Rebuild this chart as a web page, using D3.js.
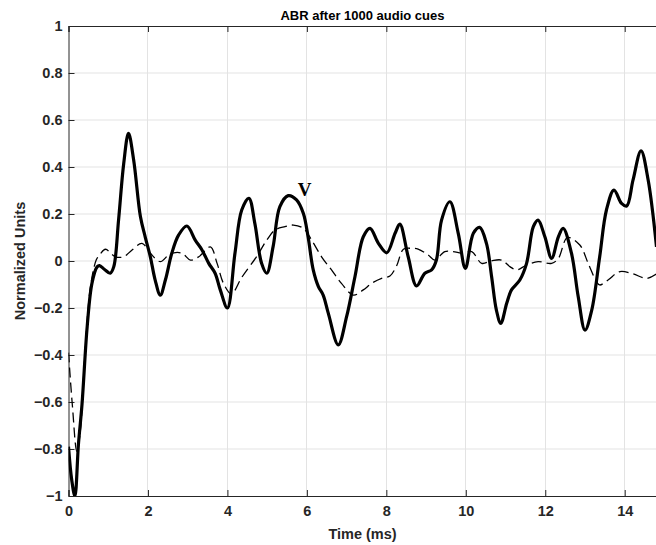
<!DOCTYPE html>
<html>
<head>
<meta charset="utf-8">
<script src="https://cdn.jsdelivr.net/npm/d3@7"></script>
<style>
body { margin:0; background:#fff; }
text { font-family: Arial, "Liberation Sans", Helvetica, sans-serif; }
</style>
</head>
<body>
<svg id="abr"></svg>
<script>
//solid trace, time in ms
var solidTime = [0,0.08,0.16,0.25,0.34,0.47,0.59,0.72,0.78,0.9,1.05,1.14,1.26,1.39,1.51,
    1.64,1.81,1.93,2.06,2.18,2.31,2.44,2.60,2.77,2.98,3.19,3.36,3.53,3.69,3.82,
    4.0,4.19,4.36,4.54,4.69,4.86,4.99,5.15,5.32,5.53,5.74,5.91,6.03,6.16,6.29,
    6.41,6.54,6.79,7.0,7.21,7.42,7.59,7.80,8.01,8.22,8.34,8.55,8.76,8.97,9.14,
    9.26,9.39,9.60,9.81,9.99,10.19,10.35,10.52,10.65,10.77,10.88,11.03,11.15,11.36,11.53,
    11.70,11.82,11.99,12.16,12.33,12.45,12.66,12.83,13.0,13.17,13.37,13.54,13.73,13.92,14.05,
    14.21,14.41,14.59,14.8];
var solidValues = [-0.79,-0.93,-1.0,-0.78,-0.61,-0.28,-0.095,-0.025,-0.02,-0.035,-0.052,-0.024,0.174,0.415,0.543,
    0.43,0.189,0.103,0.018,-0.08,-0.145,-0.08,0.033,0.11,0.149,0.089,0.047,-0.01,-0.052,-0.123,
    -0.20,0.033,0.217,0.267,0.16,-0.01,-0.052,0.061,0.231,0.278,0.26,0.203,0.103,-0.038,-0.109,
    -0.145,-0.223,-0.357,-0.237,-0.067,0.103,0.139,0.075,0.035,0.118,0.157,0.018,-0.106,-0.052,-0.038,
    0.004,0.174,0.252,0.118,-0.031,0.118,0.143,0.075,-0.067,-0.209,-0.265,-0.18,-0.123,-0.081,-0.01,
    0.146,0.174,0.103,0.011,0.103,0.139,0.033,-0.152,-0.294,-0.209,0.018,0.217,0.302,0.245,0.234,
    0.345,0.469,0.345,0.06];

//dashed trace
var dashTime = [0,0.1,0.21,0.3,0.37,0.5,0.58,0.7,0.8,0.93,1.18,1.39,1.6,1.85,2.06,
    2.31,2.52,2.65,2.86,3.07,3.28,3.57,3.74,3.9,4.1,4.36,4.74,4.99,5.2,5.45,
    5.66,5.91,6.12,6.37,6.62,6.87,7.17,7.42,7.63,7.88,8.09,8.26,8.43,8.64,8.80,
    9.05,9.22,9.47,9.68,9.93,10.15,10.40,10.65,10.90,11.11,11.28,11.53,11.82,12.16,12.33,
    12.56,12.87,13.08,13.29,13.37,13.58,13.88,14.21,14.55,14.8];
var dashValues = [-0.39,-0.62,-0.81,-0.72,-0.52,-0.19,-0.08,0.005,0.03,0.05,0.018,0.018,0.047,0.075,0.033,
    -0.003,0.026,0.035,0.033,0.004,0.018,0.06,-0.01,-0.095,-0.14,-0.07,0.02,0.089,0.132,0.146,
    0.153,0.139,0.089,0.018,-0.038,-0.095,-0.145,-0.123,-0.095,-0.074,-0.064,-0.02,0.05,0.054,0.051,
    0.026,0.004,0.04,0.04,0.033,0.04,-0.01,0.001,0.004,-0.024,-0.038,-0.017,-0.003,-0.01,0.011,
    0.10,0.068,-0.01,-0.088,-0.102,-0.081,-0.045,-0.055,-0.074,-0.055];

//ticks and labels
var xTicks = [0,2,4,6,8,10,12,14];
var yTicks = [-1,-0.8,-0.6,-0.4,-0.2,0,0.2,0.4,0.6,0.8,1];
var titleText = "ABR after 1000 audio cues";
var xLabel = "Time (ms)";
var yLabel = "Normalized Units";
//wave V marker
var peakLabel = {text:"V", time:5.77, value:0.277};

var screen = {width:656, height:545};
var margins = {top:26, bottom:49, left:68.5, right:-0.5};
var graph = {
    width:screen.width-margins.left-margins.right,
    height:screen.height-margins.top-margins.bottom
};

var svg = d3.select("#abr")
    .attr("width",screen.width)
    .attr("height",screen.height);

var xScale = d3.scaleLinear()
    .domain([0,14.8])
    .range([0,graph.width]);
var yScale = d3.scaleLinear()
    .domain([-1,1])
    .range([graph.height,0]);

var g = svg.append("g")
    .attr("transform","translate("+margins.left+","+margins.top+")");

svg.append("defs").append("clipPath").attr("id","plotclip")
    .append("rect")
    .attr("x",0).attr("y",0)
    .attr("width",graph.width).attr("height",graph.height);

//grid
g.append("g").selectAll("line")
    .data(xTicks.slice(1))
    .enter().append("line")
    .attr("x1",function(d){return Math.round(xScale(d))+0.5-margins.left%1;})
    .attr("x2",function(d){return Math.round(xScale(d))+0.5-margins.left%1;})
    .attr("y1",0).attr("y2",graph.height)
    .attr("stroke","#e3e3e3").attr("stroke-width",1);
g.append("g").selectAll("line")
    .data(yTicks.slice(1,-1))
    .enter().append("line")
    .attr("x1",0).attr("x2",graph.width)
    .attr("y1",function(d){return yScale(d);})
    .attr("y2",function(d){return yScale(d);})
    .attr("stroke","#e3e3e3").attr("stroke-width",1);

//axes like matlab, ticks pointing in
var xAxis = d3.axisBottom(xScale).tickValues(xTicks).tickSize(-6).tickPadding(10)
    .tickFormat(d3.format("d"));
var xTop = d3.axisTop(xScale).tickValues(xTicks).tickSize(-6).tickFormat("");
var yAxis = d3.axisLeft(yScale).tickValues(yTicks).tickSize(-6).tickPadding(6)
    .tickFormat(function(d){return d3.format("")(+d.toFixed(1));});

var styleAxis = function(sel)
{
    sel.select(".domain").attr("stroke","#262626").attr("stroke-width",1);
    sel.selectAll(".tick line").attr("stroke","#262626");
    sel.selectAll(".tick text")
        .attr("fill","#262626")
        .attr("font-size","14.5px")
        .attr("font-weight","bold");
}

g.append("g").attr("transform","translate(0,"+graph.height+")").call(xAxis).call(styleAxis);
g.append("g").call(xTop).call(styleAxis);
g.append("g").call(yAxis).call(styleAxis);

//traces
var plot = g.append("g").attr("clip-path","url(#plotclip)");

var dashLine = d3.line()
    .x(function(d,i){return xScale(dashTime[i]);})
    .y(function(d){return yScale(d);})
    .curve(d3.curveCatmullRom.alpha(0.5));
plot.append("path")
    .datum(dashValues)
    .attr("d",dashLine)
    .attr("fill","none")
    .attr("stroke","#000")
    .attr("stroke-width",1.3)
    .attr("stroke-dasharray","10,5");

var solidLine = d3.line()
    .x(function(d,i){return xScale(solidTime[i]);})
    .y(function(d){return yScale(d);})
    .curve(d3.curveCatmullRom.alpha(0.5));
plot.append("path")
    .datum(solidValues)
    .attr("d",solidLine)
    .attr("fill","none")
    .attr("stroke","#000")
    .attr("stroke-width",3.2)
    .attr("stroke-linejoin","round");

g.append("text")
    .attr("x",xScale(peakLabel.time))
    .attr("y",yScale(peakLabel.value))
    .attr("text-anchor","start")
    .style("font-family","'Liberation Serif','Times New Roman',serif")
    .attr("font-weight","bold")
    .attr("font-size","19px")
    .text(peakLabel.text);

//title and labels
svg.append("text")
    .attr("x",margins.left+graph.width/2)
    .attr("y",20)
    .attr("text-anchor","middle")
    .attr("font-weight","bold")
    .attr("font-size","13px")
    .attr("fill","#000")
    .text(titleText);

svg.append("text")
    .attr("x",margins.left+graph.width/2)
    .attr("y",539)
    .attr("text-anchor","middle")
    .attr("font-weight","bold")
    .attr("font-size","14.5px")
    .attr("fill","#262626")
    .text(xLabel);

svg.append("text")
    .attr("transform","translate(25,"+(margins.top+graph.height/2)+") rotate(-90)")
    .attr("text-anchor","middle")
    .attr("font-weight","bold")
    .attr("font-size","14.5px")
    .attr("fill","#262626")
    .text(yLabel);
</script>
</body>
</html>
